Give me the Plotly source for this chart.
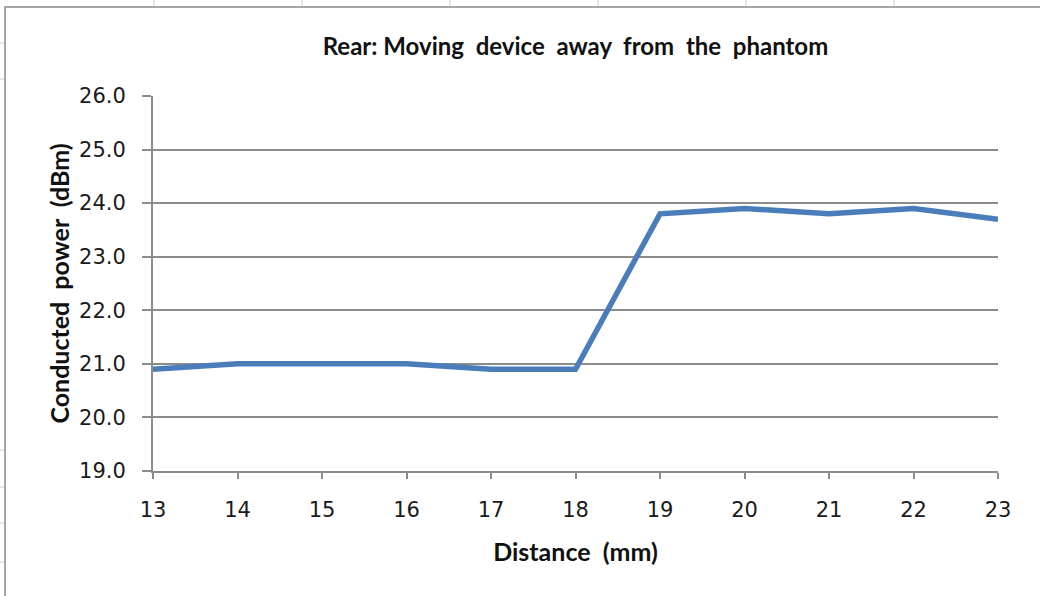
"""
Rear: conducted power vs distance from the phantom
"""
import plotly.graph_objects as go

distance_mm = [13, 14, 15, 16, 17, 18, 19, 20, 21, 22, 23]
power_dbm = [20.9, 21.0, 21.0, 21.0, 20.9, 20.9, 23.8, 23.9, 23.8, 23.9, 23.7]
y_ticks = [19, 20, 21, 22, 23, 24, 25, 26]

W, H = 1040, 596
L, R, T, B = 153, 42, 96, 125
GRID = '#8c8c8c'
TICK_FONT = dict(family='DejaVu Sans', size=21, color='#1a1a1a')
TITLE_FONT = dict(family='Lato', size=25, color='#111111')


def px_x(x):
    return (x - L) / (W - L - R)


def px_y(y):
    return (H - B - y) / (H - T - B)


fig = go.Figure(go.Scatter(x=distance_mm, y=power_dbm, mode='lines',
                           line=dict(color='#4a7ebb', width=5.5)))

# chart frame + bits of the spreadsheet behind it
shapes = [dict(type='rect', xref='paper', yref='paper',
               x0=px_x(5), x1=px_x(1060), y0=px_y(7), y1=px_y(620),
               line=dict(color='#a6a6a6', width=2), layer='below')]
for cx in [154, 302, 450, 598, 746, 894]:
    shapes.append(dict(type='line', xref='paper', yref='paper',
                       x0=px_x(cx), x1=px_x(cx), y0=px_y(0), y1=px_y(6),
                       line=dict(color='#d4d4d4', width=1)))
for cy in [43, 79, 450, 487, 523, 562]:
    shapes.append(dict(type='line', xref='paper', yref='paper',
                       x0=px_x(0), x1=px_x(4), y0=px_y(cy), y1=px_y(cy),
                       line=dict(color='#d4d4d4', width=1)))

fig.update_layout(
    width=W, height=H,
    margin=dict(l=L, r=R, t=T, b=B),
    paper_bgcolor='white', plot_bgcolor='white',
    showlegend=False,
    shapes=shapes,
    title=dict(text='<b>Rear: Moving  device  away  from  the  phantom</b>',
               x=0.5, xref='paper', xanchor='center',
               y=1 - 47 / H, yanchor='middle',
               font=dict(TITLE_FONT, size=24)),
)
fig.update_xaxes(
    range=[13, 23], tickvals=distance_mm, ticks='outside', ticklen=6,
    tickwidth=2, tickcolor=GRID, showline=True, linecolor=GRID, linewidth=2,
    showgrid=False, zeroline=False, tickfont=TICK_FONT, ticklabelstandoff=13,
    title=dict(text='<b>Distance  (mm)</b>', font=TITLE_FONT, standoff=22),
)
fig.update_yaxes(
    range=[19, 26], tickvals=y_ticks, tickformat='.1f', ticks='outside',
    ticklen=9, tickwidth=2, tickcolor=GRID, showline=True, linecolor=GRID,
    linewidth=2, showgrid=True, gridcolor=GRID, gridwidth=2, zeroline=False,
    tickfont=TICK_FONT, ticklabelstandoff=12,
    title=dict(text='<b>Conducted  power  (dBm)</b>', font=TITLE_FONT, standoff=2),
)

fig.write_html("out.html", config={'displayModeBar': False},
               post_script="document.body.style.margin='0';")
